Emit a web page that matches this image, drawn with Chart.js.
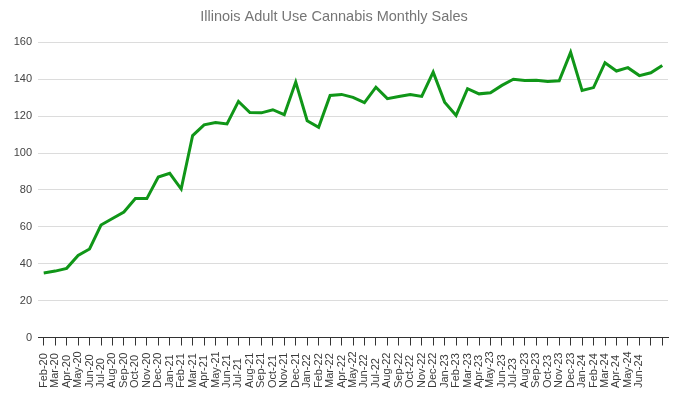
<!DOCTYPE html>
<html>
<head>
<meta charset="utf-8">
<title>Illinois Adult Use Cannabis Monthly Sales</title>
<script src="https://cdn.jsdelivr.net/npm/chart.js@4/dist/chart.umd.min.js"></script>
<style>
  body { margin: 0; background: #fff; }
  canvas { display: block; }
</style>
</head>
<body>
<canvas id="salesChart" width="678" height="396"></canvas>
<script>
// Months plotted on the x axis (one point each)
const months = [
  "Feb-20", "Mar-20", "Apr-20", "May-20", "Jun-20", "Jul-20", "Aug-20", "Sep-20", "Oct-20", "Nov-20", "Dec-20",
  "Jan-21", "Feb-21", "Mar-21", "Apr-21", "May-21", "Jun-21", "Jul-21", "Aug-21", "Sep-21", "Oct-21", "Nov-21", "Dec-21",
  "Jan-22", "Feb-22", "Mar-22", "Apr-22", "May-22", "Jun-22", "Jul-22", "Aug-22", "Sep-22", "Oct-22", "Nov-22", "Dec-22",
  "Jan-23", "Feb-23", "Mar-23", "Apr-23", "May-23", "Jun-23", "Jul-23", "Aug-23", "Sep-23", "Oct-23", "Nov-23", "Dec-23",
  "Jan-24", "Feb-24", "Mar-24", "Apr-24", "May-24", "Jun-24", "Jul-24", "Aug-24"
];

// Labels written under the ticks (the last two ticks carry none)
const tickLabels = months.slice(0, months.indexOf("Jun-24") + 1);

// Monthly sales
const sales = [
  35, 36, 37.5, 44.5, 48, 61, 64.5, 68, 75.3, 75.3, 87,
  89, 80.5, 109.5, 115.3, 116.6, 115.8, 128, 122, 121.8, 123.5, 120.8, 138.5,
  117.5, 114, 131.2, 131.8, 130.2, 127.3, 135.7, 129.5, 130.7, 131.8, 130.7, 143.9,
  127.6, 120.4, 134.9, 132.1, 132.7, 136.7, 140, 139.4, 139.5, 138.8, 139.2, 154.6,
  134, 135.5, 149, 144.5, 146.3, 142, 143.5, 147.5
];

const yTicks = { min: 0, max: 160, step: 20 };

const FONT = "'Liberation Sans', Arial, sans-serif";

// Rotated month labels, read bottom-up and aligned on their first letter
const monthLabelPlugin = {
  id: "monthLabels",
  afterDraw(chart) {
    const xScale = chart.scales.x;
    const ctx = chart.ctx;
    ctx.save();
    ctx.font = "11px " + FONT;
    ctx.fillStyle = "#3a3a3a";
    ctx.textAlign = "left";
    ctx.textBaseline = "middle";
    tickLabels.forEach((label, i) => {
      const px = xScale.getPixelForTick(i);
      ctx.save();
      ctx.translate(px, 388);
      ctx.rotate(-Math.PI / 2);
      ctx.fillText(label, 0, 0);
      ctx.restore();
    });
    ctx.restore();
  }
};

new Chart(document.getElementById("salesChart"), {
  type: "line",
  data: {
    labels: months,
    datasets: [{
      label: "Sales",
      data: sales,
      borderColor: "#109618",
      borderWidth: 3,
      pointRadius: 0,
      tension: 0,
      fill: false
    }]
  },
  options: {
    responsive: false,
    animation: false,
    devicePixelRatio: 1,
    layout: { padding: { left: 0, right: 10, top: 0, bottom: 0 } },
    plugins: {
      legend: { display: false },
      tooltip: { enabled: false },
      title: {
        display: true,
        text: "Illinois Adult Use Cannabis Monthly Sales",
        color: "#757575",
        font: { family: FONT, size: 14.5, weight: "normal" },
        padding: { top: 8, bottom: 17 }
      }
    },
    scales: {
      x: {
        offset: true,
        grid: {
          drawOnChartArea: false,
          drawTicks: true,
          tickLength: 8,
          color: "#333",
          offset: false
        },
        border: { display: true, color: "#333" },
        ticks: { display: false, autoSkip: false },
        afterFit(scale) { scale.height = 58.5; }
      },
      y: {
        min: yTicks.min,
        max: yTicks.max,
        border: { display: false },
        grid: {
          drawTicks: false,
          color: ctx => (ctx.tick && ctx.tick.value === 0 ? "#333" : "#dcdcdc")
        },
        ticks: {
          stepSize: yTicks.step,
          padding: 6,
          color: "#444",
          font: { family: FONT, size: 11 }
        },
        afterFit(scale) { scale.width = 38; }
      }
    }
  },
  plugins: [monthLabelPlugin]
});
</script>
</body>
</html>
